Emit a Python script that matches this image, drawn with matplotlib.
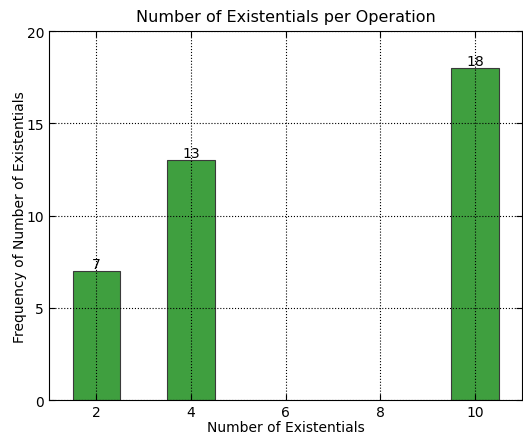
import matplotlib
matplotlib.use('Agg')
import matplotlib.pyplot as plt

# existential counts and how often each occurs
counts = [2, 4, 10]
freqs = [7, 13, 18]

plt.rcParams['xtick.direction'] = 'in'
plt.rcParams['ytick.direction'] = 'in'
plt.rcParams['xtick.top'] = True
plt.rcParams['ytick.right'] = True

fig = plt.figure(figsize=(5.23, 4.35), dpi=100)
ax = fig.add_axes([0.0937, 0.078, 0.905, 0.848])

bars = ax.bar(counts, freqs, width=1.0, color='#3f9f3f', edgecolor='#3a3a3a', linewidth=0.8)
for b, v in zip(bars, freqs):
    ax.text(b.get_x() + b.get_width() / 2, v, str(v), ha='center', va='bottom', fontsize=10)

ax.set_xlim(1, 11)
ax.set_ylim(0, 20)
ax.set_xticks([2, 4, 6, 8, 10])
ax.set_yticks([0, 5, 10, 15, 20])
ax.tick_params(labelsize=10, length=4, width=0.8)
ax.grid(True, linestyle=':', color='black', linewidth=0.8)
ax.set_axisbelow(False)

ax.set_title('Number of Existentials per Operation', fontsize=11.5, pad=7)
ax.set_xlabel('Number of Existentials', fontsize=10, labelpad=1)
ax.set_ylabel('Frequency of Number of Existentials', fontsize=10, labelpad=0)

fig.savefig('out.png', dpi=100)
